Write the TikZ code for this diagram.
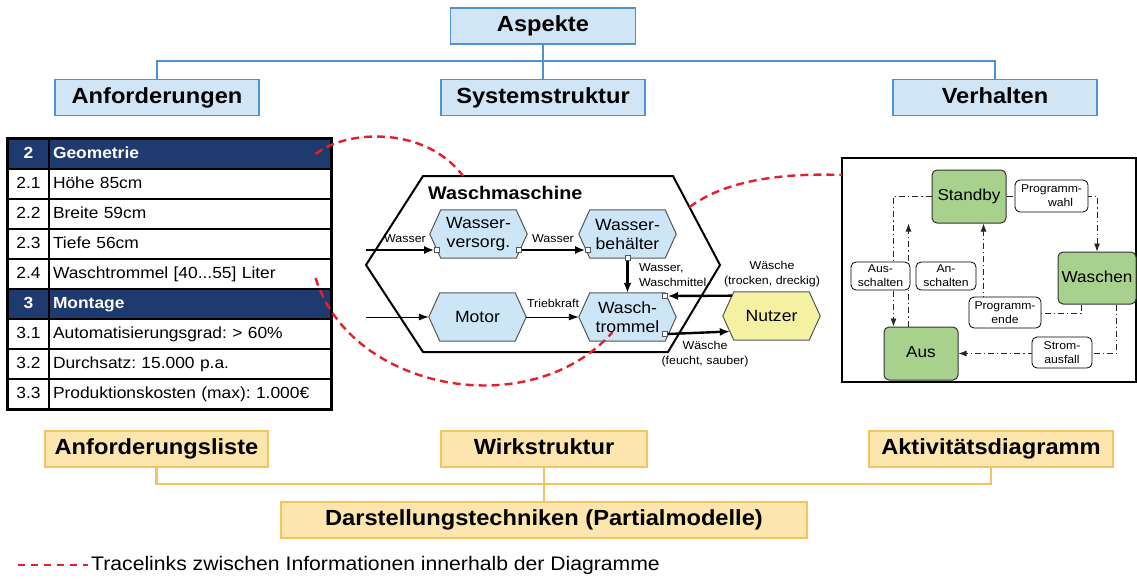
\documentclass[tikz,border=0pt]{standalone}
\usepackage{fontspec}
\setmainfont{Liberation Sans}[FakeStretch=1.08]
\usetikzlibrary{arrows.meta,calc,backgrounds}
\frenchspacing

\definecolor{topfill}{HTML}{D0E6F6}
\definecolor{topline}{HTML}{4F93CC}
\definecolor{botfill}{HTML}{FCE6AE}
\definecolor{botline}{HTML}{F2C563}
\definecolor{navy}{HTML}{1F3A6E}
\definecolor{hexblue}{HTML}{CCE6F8}
\definecolor{hexyellow}{HTML}{F4F1A2}
\definecolor{hexgray}{HTML}{555555}
\definecolor{stategreen}{HTML}{A9D18E}
\definecolor{tracered}{HTML}{E5202B}

\newcommand{\fs}[2]{\fontsize{#1}{#2}\selectfont}

% hexagonal outline behind a named node
\newcommand{\hexshape}[2]{%
  \begin{scope}[on background layer]
    \filldraw[draw=hexgray, fill=#2, line width=1pt]
      (#1.west) -- ([xshift=11pt]#1.north west) -- ([xshift=-11pt]#1.north east)
      -- (#1.east) -- ([xshift=-11pt]#1.south east) -- ([xshift=11pt]#1.south west) -- cycle;
  \end{scope}}

\tikzset{
  aspect/.style={draw=topline, fill=topfill, line width=1.5pt, minimum height=36pt,
    inner sep=0pt, text height=16pt, text depth=4.5pt, font=\fs{21.9}{26}\bfseries},
  topconn/.style={draw=topline, line width=2.2pt},
  tech/.style={draw=botline, fill=botfill, line width=1.5pt, minimum height=36pt,
    inner sep=0pt, text height=16pt, text depth=4.5pt, font=\fs{21.9}{26}\bfseries},
  botconn/.style={draw=botline, line width=2.2pt},
  numcell/.style={draw=black, line width=1.2pt, minimum width=41pt, minimum height=30pt,
    inner sep=0pt, text height=11.8pt, text depth=3.4pt, font=\fs{16.1}{19}},
  txtcell/.style={draw=black, line width=1.2pt, minimum height=30pt, text width=274pt,
    inner xsep=4pt, inner ysep=0pt, text height=11.8pt, text depth=3.4pt,
    align=left, font=\fs{16.1}{19}},
  headnum/.style={numcell, fill=navy, text=white, font=\fs{16.1}{19}\bfseries},
  headtxt/.style={txtcell, fill=navy, text=white, font=\fs{16.1}{19}\bfseries},
  hexbox/.style={minimum width=97pt, minimum height=48pt, inner sep=0pt, align=center,
    font=\fs{16.3}{19}},
  port/.style={draw=hexgray, fill=white, minimum size=5pt, inner sep=0pt, line width=0.6pt},
  thickflow/.style={line width=2.4pt, -{Latex[length=10pt,width=8pt]}},
  thinflow/.style={line width=0.9pt, -{Latex[length=10pt,width=7pt]}},
  smalltxt/.style={font=\fs{11.5}{15}, inner sep=1pt, align=center},
  state/.style={draw=black!80, fill=stategreen, rounded corners=5pt, line width=1pt,
    minimum width=74pt, minimum height=53pt, text height=11.5pt, text depth=3.4pt,
    font=\fs{15.9}{19}},
  evlabel/.style={draw=black, fill=white, rounded corners=5pt, line width=0.8pt,
    align=center, font=\fs{11.3}{14}, inner sep=1.5pt},
  trans/.style={draw=black!85, line width=0.8pt,
    dash pattern=on 6pt off 3pt on 1.2pt off 3pt, -{Latex[length=8pt,width=6pt]}},
  trace/.style={draw=tracered, line width=2.4pt, dash pattern=on 8pt off 5pt},
}

\begin{document}
\begin{tikzpicture}[x=1pt,y=-1pt]
\useasboundingbox (0,0) rectangle (1137,579);

% ---------- aspects ----------
\node[aspect, minimum width=185pt] (asp) at (543,26) {Aspekte};
\node[aspect, minimum width=204pt] (anf) at (157,97.5) {Anforderungen};
\node[aspect, minimum width=204pt] (sys) at (543,97.5) {Systemstruktur};
\node[aspect, minimum width=204pt] (ver) at (995,97.5) {Verhalten};
\coordinate (tj) at (543,61);
\draw[topconn] (asp.south) -- (tj);
\draw[topconn] (anf.north) |- (tj) -| (ver.north);
\draw[topconn] (tj) -- (sys.north);

% ---------- requirement list ----------
\node[headnum] (n0) at (28.5,154) {2};
\node[headtxt] (t0) at (190,154) {Geometrie};
\node[numcell] (n1) at (28.5,184) {2.1};
\node[txtcell] (t1) at (190,184) {Höhe 85cm};
\node[numcell] (n2) at (28.5,214) {2.2};
\node[txtcell] (t2) at (190,214) {Breite 59cm};
\node[numcell] (n3) at (28.5,244) {2.3};
\node[txtcell] (t3) at (190,244) {Tiefe 56cm};
\node[numcell] (n4) at (28.5,274) {2.4};
\node[txtcell] (t4) at (190,274) {Waschtrommel [40...55] Liter};
\node[headnum] (n5) at (28.5,304) {3};
\node[headtxt] (t5) at (190,304) {Montage};
\node[numcell] (n6) at (28.5,334) {3.1};
\node[txtcell] (t6) at (190,334) {Automatisierungsgrad: > 60\%};
\node[numcell] (n7) at (28.5,364) {3.2};
\node[txtcell] (t7) at (190,364) {Durchsatz: 15.000 p.a.};
\node[numcell] (n8) at (28.5,394) {3.3};
\node[txtcell] (t8) at (190,394) {Produktionskosten (max): 1.000€};
\draw[line width=2pt] (n0.north west) rectangle (t8.south east);

% ---------- active structure ----------
\coordinate (wmL) at (366,265);
\coordinate (wmTL) at (423,176);
\coordinate (wmTR) at (673,176);
\coordinate (wmR) at (720,265);
\coordinate (wmBR) at (668,352);
\coordinate (wmBL) at (423,352);
\begin{scope}[on background layer]
  \draw[line width=2pt, fill=white] (wmL) -- (wmTL) -- (wmTR) -- (wmR) -- (wmBR) -- (wmBL) -- cycle;
\end{scope}
\node[anchor=west, font=\fs{18.3}{22}\bfseries, inner sep=0pt] (wmt) at (428,193) {Waschmaschine};

\node[hexbox] (wv) at (478.5,234) {Wasser-\\versorg.};
\hexshape{wv}{hexblue}
\node[hexbox] (wb) at (627.5,234) {Wasser-\\behälter};
\hexshape{wb}{hexblue}
\node[hexbox] (mo) at (477.5,317) {Motor};
\hexshape{mo}{hexblue}
\node[hexbox] (wt) at (627.5,317) {Wasch-\\trommel};
\hexshape{wt}{hexblue}
\node[hexbox] (nu) at (771.5,316) {Nutzer};
\hexshape{nu}{hexyellow}

\coordinate (wIn) at (366,250);
\coordinate (mIn) at (366,317);
\coordinate (nuA) at ($(nu.west)!0.84!([xshift=11pt]nu.north west)$);
\coordinate (nuB) at ($(nu.west)!0.64!([xshift=11pt]nu.south west)$);

\node[port] (p1) at (437,250) {};
\node[port] (p2) at (519,250) {};
\node[port] (p3) at (588,250) {};
\node[port] (p4) at (wb.south) {};
\node[port] (p5) at (665,296) {};
\node[port] (p6) at (665,334) {};

\draw[thickflow] (wIn) -- (p1.west);
\draw[thickflow] (p2.east) -- (p3.west);
\draw[thickflow] (p4.south) -- (wt.north);
\draw[thickflow] (nuA) -- (p5.east);
\draw[thickflow] (p6.east) -- (nuB);
\draw[thinflow] (mIn) -- (mo.west);
\draw[thinflow] (mo.east) -- (wt.west);

\node[smalltxt] (l1) at (405,239) {Wasser};
\node[smalltxt] (l2) at (553,239) {Wasser};
\node[smalltxt, align=left, anchor=west] (l3) at (638,275) {Wasser,\\Waschmittel};
\node[smalltxt] (l4) at (553,303) {Triebkraft};
\node[smalltxt] (l5) at (772,274) {Wäsche\\(trocken, dreckig)};
\node[smalltxt] (l6) at (705,354) {Wäsche\\(feucht, sauber)};

% ---------- activity diagram ----------
\draw[line width=2pt] (842,158) rectangle (1136,382);
\node[state] (stb) at (969,196.5) {Standby};
\node[state, minimum width=78pt, minimum height=52pt] (wsn) at (1097,278) {Waschen};
\node[state] (aus) at (921,353.5) {Aus};

\draw[trans] (stb.east) -| (wsn.north);
\draw[trans] (stb.west) -| ($(aus.north west)+(10,0)$);
\coordinate (an0) at ($(aus.north west)+(25,0)$);
\draw[trans] (an0) -- (an0 |- stb.south);
\coordinate (pe0) at ($(wsn.south west)+(24,0)$);
\draw[trans] (pe0) -- ++(0,9) -| ($(stb.south west)+(52,0)$);
\coordinate (sa0) at ($(wsn.south west)+(59,0)$);
\draw[trans] (sa0) |- (aus.east);

\node[evlabel, minimum width=73pt, minimum height=32pt] (e1) at (1051.5,196) {Programm-\\\hspace*{1.6em}wahl};
\node[evlabel, minimum width=59pt, minimum height=28pt] (e2) at (880.5,276) {Aus-\\schalten};
\node[evlabel, minimum width=60pt, minimum height=28pt] (e3) at (946,276) {An-\\schalten};
\node[evlabel, minimum width=72pt, minimum height=31pt] (e4) at (1005,312.5) {Programm-\\ende};
\node[evlabel, minimum width=60pt, minimum height=31pt] (e5) at (1062,352.5) {Strom-\\ausfall};

% ---------- representation techniques ----------
\node[tech, minimum width=223pt] (al) at (156.5,449) {Anforderungsliste};
\node[tech, minimum width=206pt] (ws) at (544,449) {Wirkstruktur};
\node[tech, minimum width=244pt] (ad) at (991,449) {Aktivitätsdiagramm};
\node[tech, minimum width=526pt] (dt) at (544,520) {Darstellungstechniken (Partialmodelle)};
\coordinate (bj) at (544,484);
\draw[botconn] (al.south) |- (bj) -| (ad.south);
\draw[botconn] (ws.south) -- (bj) -- (dt.north);

% ---------- trace links ----------
\draw[trace] ($(t0.east)+(-16,0)$) .. controls (345,130) and (425,125) .. ($(wmTL)!0.16!(wmTR)$);
\draw[trace] ($(t4.east)+(-16,4)$) .. controls (350,390) and (530,425) .. ($(wt.south)+(-15,-9)$);
\draw[trace] ($(wmTR)!0.35!(wmR)$) .. controls (715,188) and (760,172) .. (842,175);

% legend
\coordinate (lg0) at (18,565);
\node[anchor=west, font=\fs{19.6}{23}, inner sep=0pt] (lgt) at (91,565) {Tracelinks zwischen Informationen innerhalb der Diagramme};
\draw[draw=tracered, line width=2.4pt, dash pattern=on 7pt off 6pt] (lg0) -- ($(lgt.west)+(-3,0)$);
\end{tikzpicture}
\end{document}
